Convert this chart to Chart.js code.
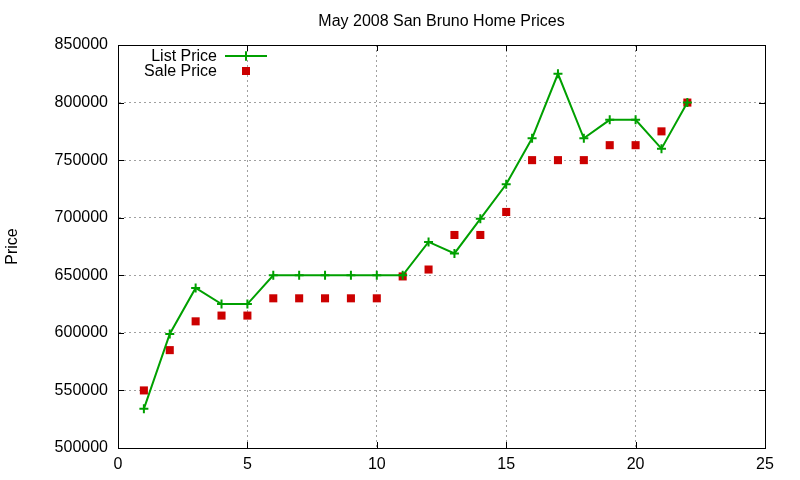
<!DOCTYPE html>
<html>
<head>
<meta charset="utf-8">
<title>May 2008 San Bruno Home Prices</title>
<script src="https://cdn.jsdelivr.net/npm/chart.js@4/dist/chart.umd.min.js"></script>
<style>
  html, body { margin: 0; padding: 0; background: #fff; }
  #wrap { width: 800px; height: 480px; }
</style>
</head>
<body>
<div id="wrap"><canvas id="chart" width="800" height="480"></canvas></div>
<script>
// data
const days = [1, 2, 3, 4, 5, 6, 7, 8, 9, 10, 11, 12, 13, 14, 15, 16, 17, 18, 19, 20, 21, 22];
const listPrice = [534000, 599000, 639000, 625000, 625000, 650000, 650000, 650000, 650000, 650000, 650000,
                   679000, 669000, 699000, 729000, 769000, 825000, 769000, 785000, 785000, 760000, 800000];
const salePrice = [550000, 585000, 610000, 615000, 615000, 630000, 630000, 630000, 630000, 630000, 649000,
                   655000, 685000, 685000, 705000, 750000, 750000, 750000, 763000, 763000, 775000, 800000];
const xTicks = [0, 5, 10, 15, 20, 25];
const yTicks = [500000, 550000, 600000, 650000, 700000, 750000, 800000, 850000];
const chartTitle = "May 2008 San Bruno Home Prices";

const FONT = "'Liberation Sans', Arial, sans-serif";
Chart.defaults.font.family = FONT;
Chart.defaults.font.size = 16;
Chart.defaults.color = "#000";

function toPoints(xs, ys) {
  return xs.map((x, i) => ({ x: x, y: ys[i] }));
}

// gnuplot style box with inward ticks, title over the plot and the key inside it
const frame = {
  id: "frame",
  afterDatasetsDraw(chart) {
    const ctx = chart.ctx;
    const a = chart.chartArea;
    const xs = chart.scales.x, ys = chart.scales.y;
    const len = 6;
    ctx.save();
    ctx.strokeStyle = "#000";
    ctx.lineWidth = 1;
    ctx.beginPath();
    xs.ticks.forEach(t => {
      const px = Math.round(xs.getPixelForValue(t.value)) + 0.5;
      ctx.moveTo(px, a.bottom); ctx.lineTo(px, a.bottom - len);
      ctx.moveTo(px, a.top); ctx.lineTo(px, a.top + len);
    });
    ys.ticks.forEach(t => {
      const py = Math.round(ys.getPixelForValue(t.value)) + 0.5;
      ctx.moveTo(a.left, py); ctx.lineTo(a.left + len, py);
      ctx.moveTo(a.right, py); ctx.lineTo(a.right - len, py);
    });
    ctx.stroke();
    ctx.strokeRect(Math.round(a.left) + 0.5, Math.round(a.top) + 0.5,
                   Math.round(a.right - a.left), Math.round(a.bottom - a.top));
    ctx.restore();
  },
  afterDraw(chart) {
    const ctx = chart.ctx;
    const a = chart.chartArea;
    const textRight = a.left + 99;
    const sampleX = a.left + 128;
    ctx.save();
    ctx.font = "16px " + FONT;
    ctx.fillStyle = "#000";
    ctx.textAlign = "center";
    ctx.textBaseline = "middle";
    ctx.fillText(chartTitle, (a.left + a.right) / 2, 22);
    ctx.textAlign = "right";
    chart.data.datasets.forEach((ds, i) => {
      const y = a.top + 11 + i * 15;
      ctx.fillStyle = "#000";
      ctx.fillText(ds.label, textRight, y + 1);
      if (ds.showLine) {
        ctx.strokeStyle = ds.borderColor;
        ctx.lineWidth = 2;
        ctx.beginPath();
        ctx.moveTo(sampleX - 21, y); ctx.lineTo(sampleX + 21, y);
        ctx.stroke();
      }
      Chart.helpers.drawPoint(ctx, {
        pointStyle: ds.pointStyle, radius: ds.pointRadius, borderWidth: ds.pointBorderWidth, rotation: 0
      }, sampleX, y);
      ctx.fillStyle = ds.pointBackgroundColor;
      ctx.strokeStyle = ds.pointBorderColor;
      if (ds.pointStyle === "rect") ctx.fill(); else ctx.stroke();
    });
    ctx.restore();
  }
};

new Chart(document.getElementById("chart"), {
  type: "scatter",
  data: {
    datasets: [
      {
        label: "List Price",
        data: toPoints(days, listPrice),
        showLine: true,
        borderColor: "#00a000",
        borderWidth: 2,
        pointStyle: "cross",
        pointRadius: 4.5,
        pointBorderWidth: 2,
        pointBorderColor: "#00a000",
        pointBackgroundColor: "#00a000",
        tension: 0
      },
      {
        label: "Sale Price",
        data: toPoints(days, salePrice),
        showLine: false,
        pointStyle: "rect",
        pointRadius: 5.7,
        pointBorderWidth: 0,
        pointBorderColor: "#cc0000",
        pointBackgroundColor: "#cc0000"
      }
    ]
  },
  options: {
    responsive: false,
    animation: false,
    layout: { padding: { left: 0, right: 35, top: 45, bottom: 0 } },
    plugins: {
      legend: { display: false },
      tooltip: { enabled: false },
      title: { display: false }
    },
    scales: {
      x: {
        type: "linear",
        min: 0,
        max: 25,
        afterBuildTicks(s) { s.ticks = xTicks.map(v => ({ value: v })); },
        afterFit(s) { s.height = 32; },
        ticks: { padding: 7, maxRotation: 0, color: "#000", callback: v => String(v) },
        grid: { color: "#a0a0a0", lineWidth: 1, drawTicks: false },
        border: { display: true, color: "#000", dash: [2, 3] }
      },
      y: {
        type: "linear",
        min: 500000,
        max: 850000,
        afterBuildTicks(s) { s.ticks = yTicks.map(v => ({ value: v })); },
        afterFit(s) { s.width = 118; },
        ticks: { padding: 10, color: "#000", callback: v => String(v) },
        grid: { color: "#a0a0a0", lineWidth: 1, drawTicks: false },
        border: { display: true, color: "#000", dash: [2, 3] },
        title: {
          display: true,
          text: "Price",
          color: "#000",
          font: { size: 16, family: FONT },
          padding: { top: 3, bottom: 0 }
        }
      }
    }
  },
  plugins: [frame]
});
</script>
</body>
</html>
